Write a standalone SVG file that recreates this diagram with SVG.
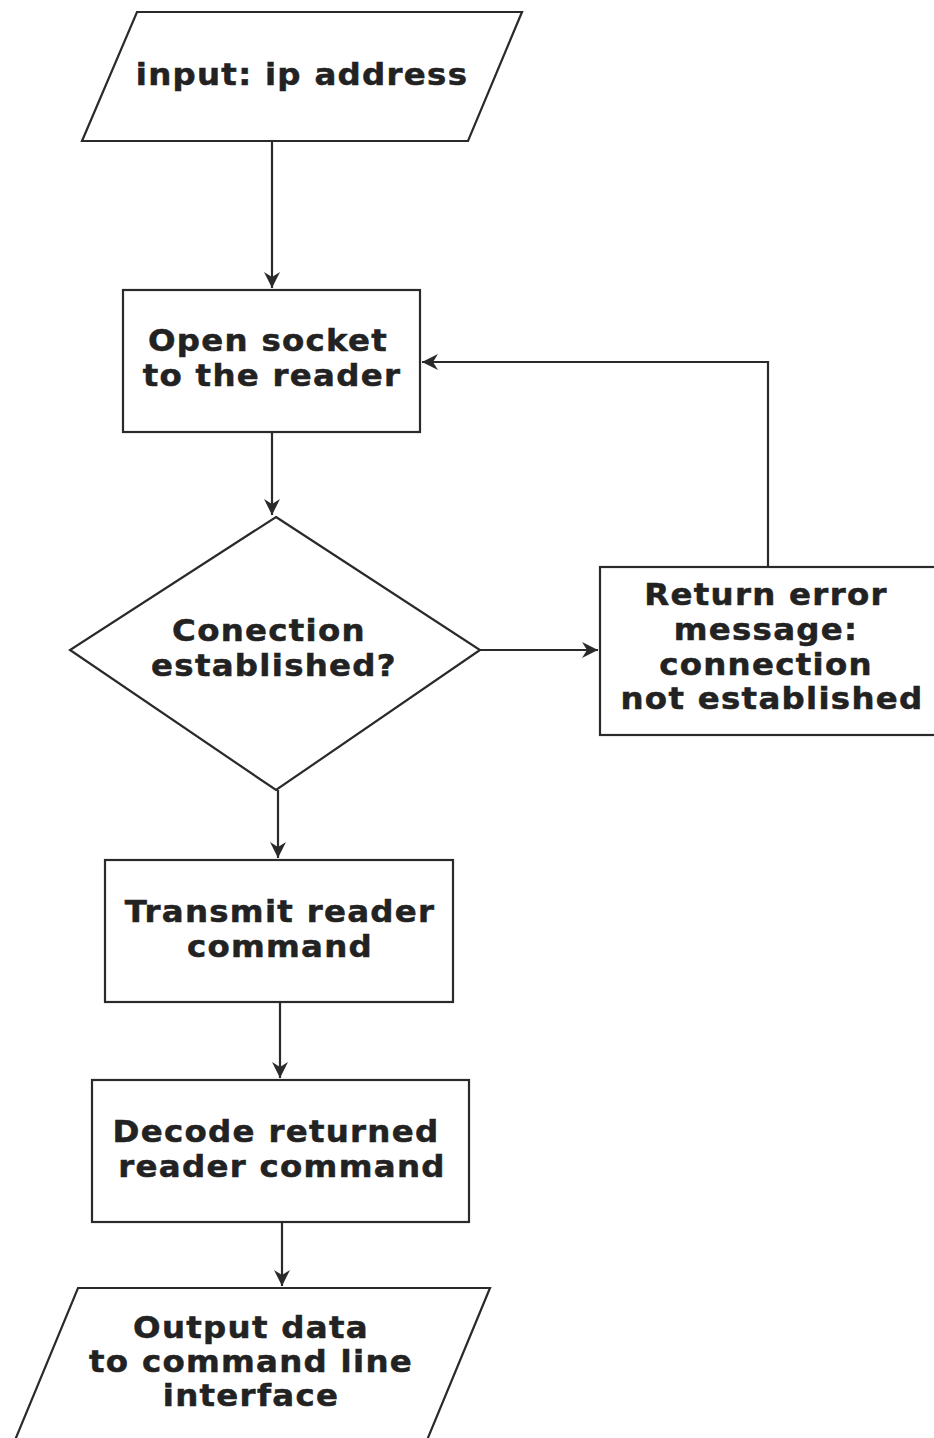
<svg xmlns="http://www.w3.org/2000/svg" width="934" height="1438" viewBox="0 0 934 1438">
<defs>
<style>
.s{fill:#fff;stroke:#2a2a2a;stroke-width:2.2}
.c{fill:none;stroke:#2a2a2a;stroke-width:2.2}
.t{font-family:"DejaVu Sans",sans-serif;font-weight:bold;font-size:30px;fill:#222;stroke:#222;stroke-width:0.5;text-anchor:middle;letter-spacing:1.2px}
</style>
<marker id="a" markerWidth="22" markerHeight="22" refX="16" refY="8" orient="auto" markerUnits="userSpaceOnUse">
<path d="M0,0 L16,8 L0,16 L5,8 Z" fill="#2a2a2a"/>
</marker>
</defs>
<rect width="934" height="1438" fill="#fff"/>
<g id="connectors">
<path class="c" d="M272,141 L272,288" marker-end="url(#a)"/>
<path class="c" d="M272,432 L272,515" marker-end="url(#a)"/>
<path class="c" d="M480,650 L598,650" marker-end="url(#a)"/>
<path class="c" d="M768,567 L768,362 L422,362" marker-end="url(#a)"/>
<path class="c" d="M278,790 L278,858" marker-end="url(#a)"/>
<path class="c" d="M280,1002 L280,1078" marker-end="url(#a)"/>
<path class="c" d="M282,1222 L282,1286" marker-end="url(#a)"/>
</g>
<g id="input">
<polygon class="s" points="137,12 522,12 468,141 82,141"/>
<text class="t" transform="translate(302,85) scale(1.08,1)">input: ip address</text>
</g>
<g id="open">
<rect class="s" x="123" y="290" width="297" height="142"/>
<text class="t" transform="translate(268,351) scale(1.08,1)">Open socket</text>
<text class="t" transform="translate(272,386) scale(1.08,1)">to the reader</text>
</g>
<g id="decision">
<polygon class="s" points="276,517 480,650 276,790 70,650"/>
<text class="t" transform="translate(269,641) scale(1.08,1)">Conection</text>
<text class="t" transform="translate(274,676) scale(1.08,1)">established?</text>
</g>
<g id="error">
<rect class="s" x="600" y="567" width="340" height="168"/>
<text class="t" transform="translate(766,605) scale(1.08,1)">Return error</text>
<text class="t" transform="translate(766,640) scale(1.08,1)">message:</text>
<text class="t" transform="translate(766,675) scale(1.08,1)">connection</text>
<text class="t" transform="translate(772,709) scale(1.08,1)">not established</text>
</g>
<g id="transmit">
<rect class="s" x="105" y="860" width="348" height="142"/>
<text class="t" transform="translate(280,922) scale(1.08,1)">Transmit reader</text>
<text class="t" transform="translate(280,957) scale(1.08,1)">command</text>
</g>
<g id="decode">
<rect class="s" x="92" y="1080" width="377" height="142"/>
<text class="t" transform="translate(276,1142) scale(1.08,1)">Decode returned</text>
<text class="t" transform="translate(282,1177) scale(1.08,1)">reader command</text>
</g>
<g id="output">
<polygon class="s" points="78,1288 490,1288 425,1445 13,1445"/>
<text class="t" transform="translate(251,1338) scale(1.08,1)">Output data</text>
<text class="t" transform="translate(251,1372) scale(1.08,1)">to command line</text>
<text class="t" transform="translate(251,1406) scale(1.08,1)">interface</text>
</g>
</svg>
